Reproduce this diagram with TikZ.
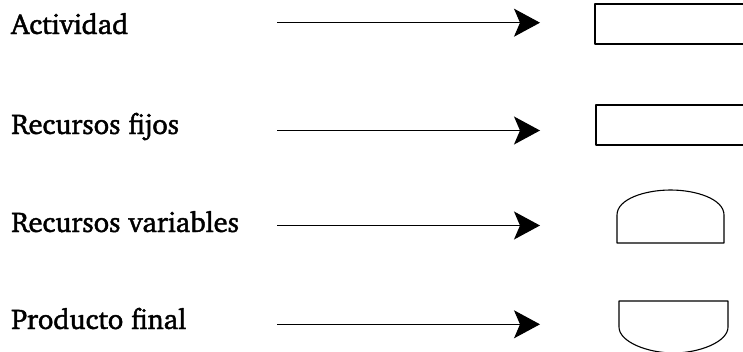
\documentclass[tikz,border=0pt]{standalone}
\usepackage[T1]{fontenc}
\usepackage{charter}
\usetikzlibrary{arrows.meta}
\newcommand{\heavytext}[1]{\special{pdf:literal direct 2 Tr 0.45 w}#1\special{pdf:literal direct 0 Tr 1 w}}
\tikzset{
  lbl/.style={anchor=base west, inner sep=0pt, font=\fontsize{28.5}{34}\selectfont},
  arr/.style={line width=1.1pt, -{Stealth[length=26pt,width=28pt,inset=6pt]}},
  shp/.style={line width=1.1pt, line join=round}
}
\begin{document}
\begin{tikzpicture}[x=1pt,y=-1pt]
\useasboundingbox (0,0) rectangle (743,351);
\clip (0,0) rectangle (743,351);
\node[lbl] (t1) at (11,34) {\heavytext{Actividad}};
\node[lbl] (t2) at (11,134) {\heavytext{Recursos fijos}};
\node[lbl] (t3) at (11,232) {\heavytext{Recursos variables}};
\node[lbl] (t4) at (11,329) {\heavytext{Producto final}};
\coordinate (a1s) at (277,22.7);  \coordinate (a1e) at (540,22.7);
\coordinate (a2s) at (277,130.5); \coordinate (a2e) at (540,130.5);
\coordinate (a3s) at (277,225.5); \coordinate (a3e) at (540,225.5);
\coordinate (a4s) at (277,324.3); \coordinate (a4e) at (540,324.3);
\draw[arr] (a1s) -- (a1e);
\draw[arr] (a2s) -- (a2e);
\draw[arr] (a3s) -- (a3e);
\draw[arr] (a4s) -- (a4e);
\draw[shp] (760,4) -- (595,4) -- (595,44) -- (760,44);
\draw[shp] (760,105) -- (596,105) -- (596,145) -- (760,145);
\draw[shp] (617,243) -- (617,215) .. controls (617,199) and (645,190) .. (670.5,190)
  .. controls (696,190) and (724,199) .. (724,215) -- (724,243) -- cycle;
\draw[shp] (619,301) -- (619,327) .. controls (619,342) and (648,353) .. (673.5,353)
  .. controls (699,353) and (728,342) .. (728,327) -- (728,301) -- cycle;
\end{tikzpicture}
\end{document}
